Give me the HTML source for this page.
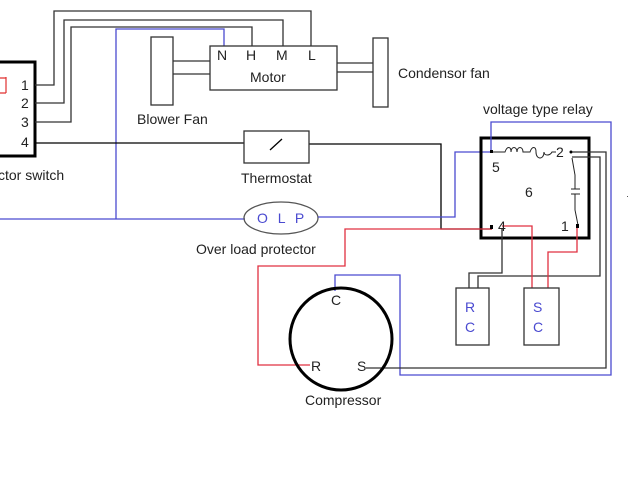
<!DOCTYPE html>
<html><head><style>
html,body{margin:0;padding:0;background:#fff;width:640px;height:480px;overflow:hidden}
svg{display:block}
text{font-family:"Liberation Sans",sans-serif;font-size:14px;fill:#222}
</style></head><body>
<svg width="640" height="480" viewBox="0 0 640 480" xmlns="http://www.w3.org/2000/svg">
<g fill="none" stroke-width="1.3">
<path d="M-5 62 H35 V156 H-5" stroke="#000" stroke-width="3"/>
<path d="M0 78 H6 M6 77 V93 M0 93 H6" stroke="#e03030" stroke-width="1.2"/>
<path d="M35 85 H54 V11 H311 V46" stroke="#333"/>
<path d="M35 103 H64 V20 H283 V46" stroke="#333"/>
<path d="M35 122 H71 V27 H252 V46" stroke="#333"/>
<path d="M224 46 V29 H116 V219" stroke="#4a4ad0"/>
<path d="M0 219 H245" stroke="#4a4ad0"/>
<rect x="210" y="46" width="127" height="44" stroke="#333"/>
<rect x="151" y="37" width="22" height="68" stroke="#333"/>
<path d="M173 61 H210 M173 74 H210" stroke="#333"/>
<rect x="373" y="38" width="15" height="69" stroke="#333"/>
<path d="M337 63 H373 M337 72 H373" stroke="#333"/>
<path d="M35 143 H244 M309 144 H441 V229 H492" stroke="#000"/>
<rect x="244" y="131" width="65" height="32" stroke="#333"/>
<path d="M270 150 L282 139" stroke="#000"/>
<ellipse cx="281" cy="218" rx="37" ry="16" stroke="#555"/>
<path d="M318 217 H455 V152 H491" stroke="#4a4ad0"/>
<rect x="481" y="138" width="108" height="100" stroke="#000" stroke-width="3"/>
<path d="M491 152 V122 H611 V375 H400 V275 H335 V291" stroke="#4a4ad0"/>
<path d="M491 152 H505 c2-6 6-6 6 0 c0-6 6-6 6 0 c0-6 6-6 6 0 H530 c2-6 6-6 6 0 c0 8 8 8 8 0 c0 4 6 4 8 0 H556" stroke="#222" stroke-width="1"/>
<path d="M572 158 L575 175 V189 M571 189 H580 M571 194 H580 M575 194 V210 L578 225" stroke="#222" stroke-width="1"/>
<circle cx="571" cy="152" r="1.5" fill="#000"/>
<path d="M572 152 H606 V368 H366" stroke="#333"/>
<path d="M572 157 H600 V276 H478 V288" stroke="#333"/>
<path d="M502 229 V273 H469 V288" stroke="#333"/>
<path d="M492 229 H345 V266 H258 V365 H310" stroke="#e03040"/>
<path d="M502 226 H532 V288" stroke="#e03040"/>
<path d="M577 226 V252 H548 V288" stroke="#e03040"/>
<rect x="490" y="225" width="3" height="4" fill="#000" stroke="none"/>
<rect x="576" y="224" width="3" height="4" fill="#000" stroke="none"/>
<rect x="490" y="150" width="3" height="3" fill="#000" stroke="none"/>
<rect x="456" y="288" width="33" height="57" stroke="#333"/>
<rect x="524" y="288" width="35" height="57" stroke="#333"/>
<circle cx="341" cy="339" r="51" stroke="#000" stroke-width="3"/>
<rect x="627" y="196" width="1" height="1" fill="#555" stroke="none"/>
</g>
<text x="21" y="90">1</text><text x="21" y="108">2</text><text x="21" y="127">3</text><text x="21" y="147">4</text>
<text x="-2" y="180">ctor switch</text>
<text x="217" y="60">N</text><text x="246" y="60">H</text><text x="276" y="60">M</text><text x="308" y="60">L</text>
<text x="250" y="82">Motor</text>
<text x="137" y="124">Blower Fan</text>
<text x="398" y="78">Condensor fan</text>
<text x="241" y="183">Thermostat</text>
<text x="257" y="223" style="fill:#4a4ad0;letter-spacing:3px">O L P</text>
<text x="196" y="254">Over load protector</text>
<text x="483" y="114">voltage type relay</text>
<text x="492" y="172">5</text><text x="556" y="157">2</text><text x="525" y="197">6</text><text x="498" y="231">4</text><text x="561" y="231">1</text>
<text x="465" y="312" style="fill:#4a4ad0">R</text><text x="465" y="332" style="fill:#4a4ad0">C</text>
<text x="533" y="312" style="fill:#4a4ad0">S</text><text x="533" y="332" style="fill:#4a4ad0">C</text>
<text x="331" y="305">C</text><text x="311" y="371">R</text><text x="357" y="371">S</text>
<text x="305" y="405">Compressor</text>
</svg>
</body></html>
